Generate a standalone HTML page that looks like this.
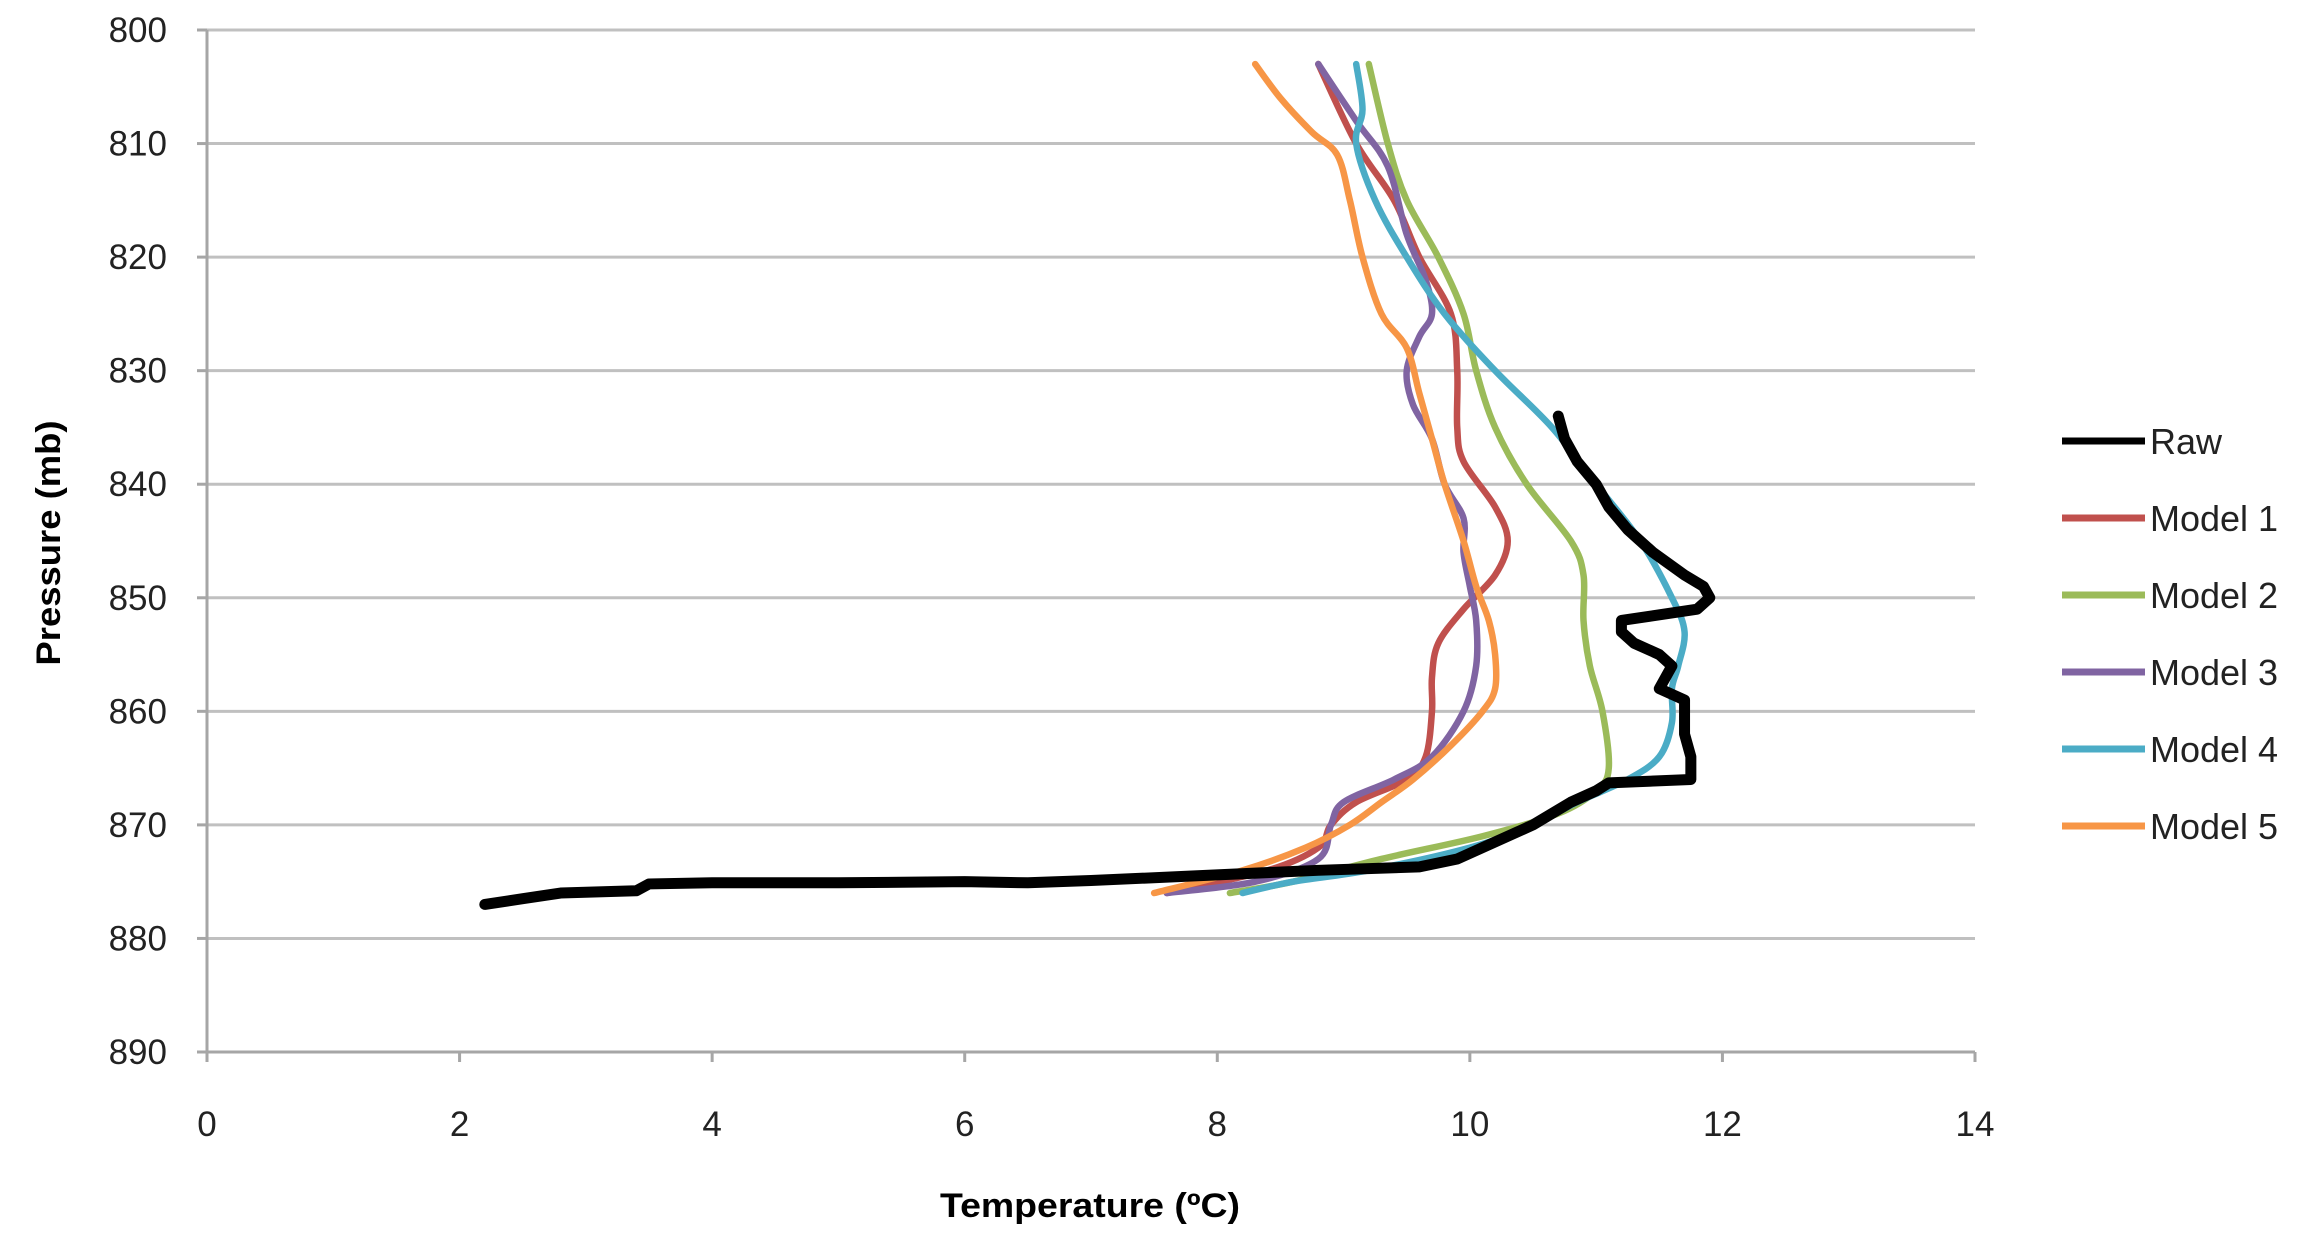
<!DOCTYPE html>
<html><head><meta charset="utf-8"><style>
html,body{margin:0;padding:0;background:#fff;}
svg{display:block;font-family:"Liberation Sans",sans-serif;}
</style></head><body>
<svg id="chart" width="2311" height="1249" viewBox="0 0 2311 1249" xmlns="http://www.w3.org/2000/svg">
<g id="grid"></g>
<g id="axes"></g>
<g id="series"></g>
<g id="legend"></g>
<text x="1090" y="1217" font-size="34" font-weight="bold" text-anchor="middle" fill="#000" textLength="300" lengthAdjust="spacingAndGlyphs">Temperature (ºC)</text>
<text transform="translate(60,543) rotate(-90)" font-size="34" font-weight="bold" text-anchor="middle" fill="#000" textLength="245" lengthAdjust="spacingAndGlyphs">Pressure (mb)</text>
</svg>
<script>
const xTicks=[0,2,4,6,8,10,12,14];
const yTicks=[800,810,820,830,840,850,860,870,880,890];
const seriesNames=["Raw","Model 1","Model 2","Model 3","Model 4","Model 5"];
const seriesColors=["#000000","#c0504d","#9bbb59","#8064a2","#4bacc6","#f79646"];
const rawP=[834,836,838,840,842,844,846,848,849,850,851,852,853,854,855,856,857,858,859,862,864,866,866.3,867,868,870,871,872,873,873.7,874,874.5,874.9,875.1,875,875.1,875.1,875.2,875.8,876,876.5,877];
const rawT=[10.7,10.75,10.85,11.0,11.1,11.25,11.45,11.7,11.85,11.9,11.8,11.2,11.2,11.3,11.5,11.6,11.55,11.5,11.7,11.7,11.75,11.75,11.1,11.0,10.8,10.5,10.3,10.1,9.9,9.6,8.8,7.8,7.0,6.5,6.0,5.0,4.0,3.5,3.4,2.8,2.5,2.2];
const m1P=[803,810,815,820,825,830,835,838,842,845,848,851,854,857,860,864,866,868,870,872,874,876];
const m1T=[8.8,9.1,9.4,9.6,9.85,9.9,9.9,9.95,10.2,10.3,10.2,9.95,9.75,9.7,9.7,9.65,9.5,9.1,8.9,8.8,8.4,7.6];
const m2P=[803,810,815,820,825,830,835,840,845,848,852,856,860,865,867,869,871,873,875,876];
const m2T=[9.2,9.35,9.5,9.75,9.95,10.05,10.2,10.45,10.8,10.9,10.9,10.95,11.05,11.1,11.0,10.7,10.1,9.3,8.6,8.1];
const m3P=[803,808,812,818,822,825,827,830,833,836,840,843,846,849,852,856,860,864,866,868,870,873,875,876];
const m3T=[8.8,9.1,9.35,9.5,9.65,9.7,9.6,9.5,9.55,9.7,9.8,9.95,9.95,10.0,10.05,10.05,9.95,9.7,9.4,9.0,8.9,8.8,8.3,7.6];
const m4P=[803,807,810,815,820,825,830,835,840,845,850,853,856,858,861,864,866,868,870,872,874,875,876];
const m4T=[9.1,9.15,9.1,9.25,9.5,9.8,10.2,10.65,11.0,11.35,11.6,11.7,11.65,11.6,11.6,11.5,11.25,10.85,10.5,10.0,9.2,8.6,8.2];
const m5P=[803,806,809,811,815,820,825,828,832,836,840,845,849,852,855,858,860,863,866,868,870,872,874,876];
const m5T=[8.3,8.5,8.75,8.95,9.05,9.15,9.3,9.5,9.6,9.7,9.8,9.95,10.05,10.15,10.2,10.2,10.1,9.85,9.55,9.3,9.05,8.7,8.2,7.5];

const NS="http://www.w3.org/2000/svg";
const L=207,R=1975,T0=30,B=1052;
const xs=t=>L+(t-0)/(14-0)*(R-L);
const ys=p=>T0+(p-800)/(890-800)*(B-T0);
function mk(tag,attrs,parent){const e=document.createElementNS(NS,tag);for(const k in attrs)e.setAttribute(k,attrs[k]);parent.appendChild(e);return e;}
const grid=document.getElementById('grid'),axes=document.getElementById('axes'),ser=document.getElementById('series'),leg=document.getElementById('legend');
yTicks.forEach(p=>{
  if(p!==890){const g=mk('line',{x1:L,x2:R,y1:ys(p),y2:ys(p),stroke:'#c0c0c0','stroke-width':3},grid);
  
  }
  const tk=mk('line',{x1:L-10,x2:L,y1:ys(p),y2:ys(p),stroke:'#a6a6a6','stroke-width':3},axes);
  
  
  const t=mk('text',{x:L-40,y:ys(p)+12,'font-size':35,'text-anchor':'end',fill:'#222'},axes);t.textContent=p;
  
  
});
const ya=mk('line',{x1:L,x2:L,y1:T0,y2:B,stroke:'#a6a6a6','stroke-width':3},axes);


const xa=mk('line',{x1:L,x2:R,y1:B,y2:B,stroke:'#a6a6a6','stroke-width':3},axes);


xTicks.forEach(v=>{
  const tk=mk('line',{x1:xs(v),x2:xs(v),y1:B,y2:B+10,stroke:'#a6a6a6','stroke-width':3},axes);
  
  
  const t=mk('text',{x:xs(v),y:1136,'font-size':35,'text-anchor':'middle',fill:'#222'},axes);t.textContent=v;
  
  
});
function smooth(pts){let d='M'+pts[0][0]+','+pts[0][1];for(let i=0;i<pts.length-1;i++){const p0=pts[Math.max(0,i-1)],p1=pts[i],p2=pts[i+1],p3=pts[Math.min(pts.length-1,i+2)];const c1x=p1[0]+(p2[0]-p0[0])/6,c1y=p1[1]+(p2[1]-p0[1])/6,c2x=p2[0]-(p3[0]-p1[0])/6,c2y=p2[1]-(p3[1]-p1[1])/6;d+=' C'+c1x+','+c1y+' '+c2x+','+c2y+' '+p2[0]+','+p2[1];}return d;}
const data=[[rawP,rawT],[m1P,m1T],[m2P,m2T],[m3P,m3T],[m4P,m4T],[m5P,m5T]];
[1,2,3,4,5,0].forEach(i=>{
  const [P,Tt]=data[i];const pts=P.map((p,j)=>[xs(Tt[j]),ys(p)]);
  let d;
  if(i===0){d='M'+pts.map(q=>q[0]+','+q[1]).join(' L');}else d=smooth(pts);
  const path=mk('path',{d:d,fill:'none',stroke:seriesColors[i],'stroke-width':i===0?11:6.5,'stroke-linejoin':'round','stroke-linecap':'round'},ser);
  
  
});
seriesNames.forEach((n,i)=>{
  const y=441+i*77;
  const ln=mk('line',{x1:2062,x2:2145,y1:y,y2:y,stroke:seriesColors[i],'stroke-width':7},leg);
  
  
  const t=mk('text',{x:2150,y:y+13,'font-size':36,fill:'#222'},leg);t.textContent=n;
  
  
});
</script>
</body></html>
